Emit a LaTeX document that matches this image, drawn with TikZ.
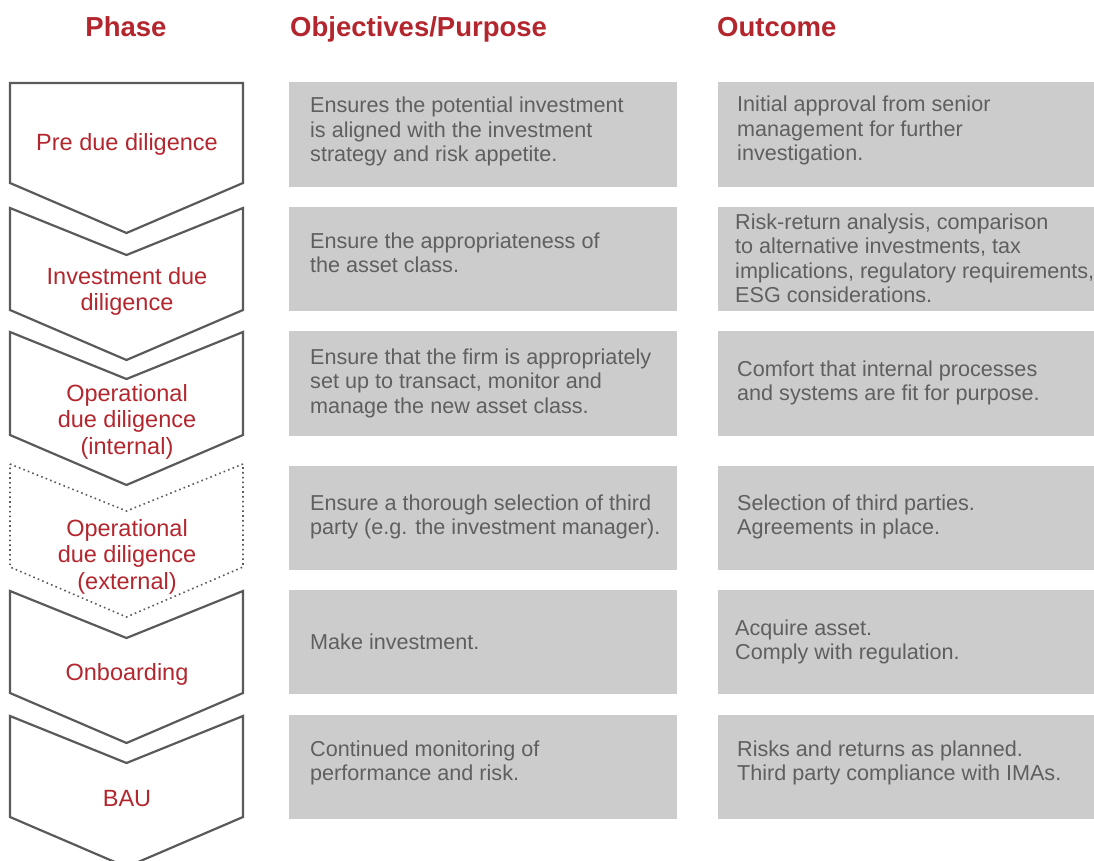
\documentclass[tikz,border=0pt]{standalone}
\usepackage{fontspec}
\setmainfont{Liberation Sans}
\definecolor{accent}{HTML}{B3262E}
\definecolor{bodygray}{HTML}{5F5F5F}
\definecolor{cellgray}{HTML}{CCCCCC}
\definecolor{edgegray}{HTML}{5A5A5A}
\tikzset{
  header/.style={text=accent, font=\fontsize{27.5}{30}\selectfont\bfseries, inner sep=0pt},
  phase/.style={text=accent, font=\fontsize{23.5}{26.5}\selectfont, align=center, inner sep=0pt, anchor=base},
  cell/.style={fill=cellgray, draw=none, inner sep=0pt, anchor=north west},
  celltext/.style={text=bodygray, font=\fontsize{21.6}{24.5}\selectfont, align=left, inner sep=0pt, anchor=base west},
  chevron/.style={draw=edgegray, line width=2.2pt, line join=miter},
  chevrondot/.style={draw=edgegray, line width=1.6pt, dash pattern=on 1.6pt off 3.2pt},
}
\begin{document}
\begin{tikzpicture}[x=1pt, y=-1pt]
\useasboundingbox (0,0) rectangle (1094,861);
\clip (0,0) rectangle (1094,861);

% column headers
\node[header, anchor=base] (hphase) at (126,37) {Phase};
\node[header, anchor=base west] (hobj) at (290,37) {Objectives/Purpose};
\node[header, anchor=base west] (hout) at (717,37) {Outcome};

% phase chevrons
\draw[chevron] (10,83) -- (243,83) -- (243,183) -- (126.5,233) -- (10,183) -- cycle;
\draw[chevron] (10,208) -- (126.5,255) -- (243,208) -- (243,310) -- (126.5,360) -- (10,310) -- cycle;
\draw[chevron] (10,332) -- (126.5,379) -- (243,332) -- (243,435) -- (126.5,485) -- (10,435) -- cycle;
\draw[chevrondot] (10,464) -- (126.5,511) -- (243,464) -- (243,567) -- (126.5,617) -- (10,567) -- cycle;
\draw[chevron] (10,591) -- (126.5,638) -- (243,591) -- (243,693) -- (126.5,743) -- (10,693) -- cycle;
\draw[chevron] (10,716) -- (126.5,763) -- (243,716) -- (243,817) -- (126.5,867) -- (10,817) -- cycle;

% phase labels (placed by the baseline of their last line)
\node[phase] (p1) at (127,151) {Pre due diligence};
\node[phase] (p2) at (127,310.5) {Investment due\\diligence};
\node[phase] (p3) at (127,454) {Operational\\due diligence\\(internal)};
\node[phase] (p4) at (127,589) {Operational\\due diligence\\(external)};
\node[phase] (p5) at (127,680) {Onboarding};
\node[phase] (p6) at (127,806) {BAU};

% objective cells
\node[cell, minimum width=388pt, minimum height=105pt] (o1) at (289,82) {};
\node[cell, minimum width=388pt, minimum height=104pt] (o2) at (289,207) {};
\node[cell, minimum width=388pt, minimum height=105pt] (o3) at (289,331) {};
\node[cell, minimum width=388pt, minimum height=104pt] (o4) at (289,466) {};
\node[cell, minimum width=388pt, minimum height=104pt] (o5) at (289,590) {};
\node[cell, minimum width=388pt, minimum height=104pt] (o6) at (289,715) {};

% outcome cells
\node[cell, minimum width=380pt, minimum height=105pt] (r1) at (718,82) {};
\node[cell, minimum width=380pt, minimum height=104pt] (r2) at (718,207) {};
\node[cell, minimum width=380pt, minimum height=105pt] (r3) at (718,331) {};
\node[cell, minimum width=380pt, minimum height=104pt] (r4) at (718,466) {};
\node[cell, minimum width=380pt, minimum height=104pt] (r5) at (718,590) {};
\node[cell, minimum width=380pt, minimum height=104pt] (r6) at (718,715) {};

% objective texts (placed by the baseline of their last line)
\node[celltext] (ot1) at (310,162) {Ensures the potential investment\\is aligned with the investment\\strategy and risk appetite.};
\node[celltext] (ot2) at (310,272.5) {Ensure the appropriateness of\\the asset class.};
\node[celltext] (ot3) at (310,413) {Ensure that the firm is appropriately\\set up to transact, monitor and\\manage the new asset class.};
\node[celltext] (ot4) at (310,534.5) {Ensure a thorough selection of third\\party (e.g. the investment manager).};
\node[celltext] (ot5) at (310,649) {Make investment.};
\node[celltext] (ot6) at (310,780.5) {Continued monitoring of\\performance and risk.};

% outcome texts
\node[celltext] (rt1) at (737,161) {Initial approval from senior\\management for further\\investigation.};
\node[celltext] (rt2) at (735,302.5) {Risk-return analysis, comparison\\to alternative investments, tax\\implications, regulatory requirements,\\ESG considerations.};
\node[celltext] (rt3) at (737,400.5) {Comfort that internal processes\\and systems are fit for purpose.};
\node[celltext] (rt4) at (737,534.5) {Selection of third parties.\\Agreements in place.};
\node[celltext] (rt5) at (735,659.5) {Acquire asset.\\Comply with regulation.};
\node[celltext] (rt6) at (737,780.5) {Risks and returns as planned.\\Third party compliance with IMAs.};
\end{tikzpicture}
\end{document}
